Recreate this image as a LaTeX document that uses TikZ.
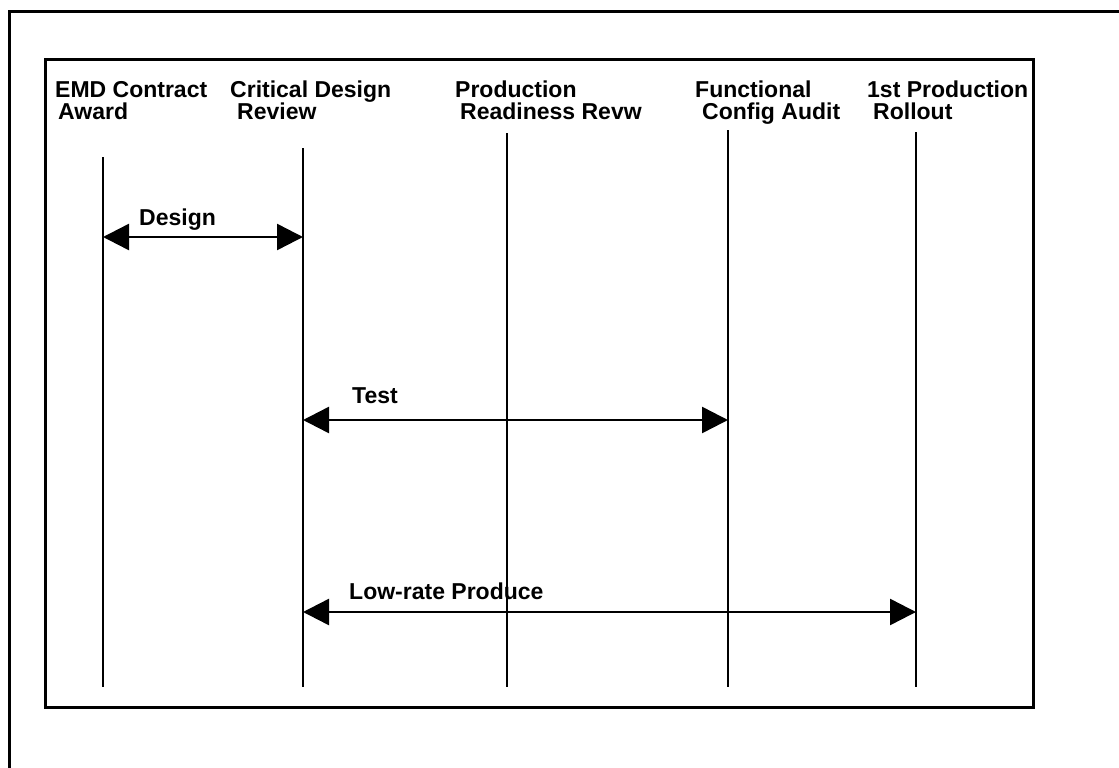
\documentclass[tikz,border=0pt]{standalone}
\usepackage{fontspec}
\setmainfont{Liberation Sans}
\usetikzlibrary{arrows.meta,positioning}

\begin{document}
\begin{tikzpicture}[x=1pt,y=-1pt,
	frame/.style={line width=3pt},
	milestoneline/.style={line width=2.2pt},
	milestone/.style={anchor=base west, inner sep=0pt, font=\fontsize{23}{22}\selectfont\bfseries},
	phaselabel/.style={anchor=base west, inner sep=0pt, font=\fontsize{23}{22}\selectfont\bfseries},
	phase/.style={line width=2.5pt, {Triangle[length=26pt,width=26pt]}-{Triangle[length=26pt,width=26pt]}}]
	\useasboundingbox (0,0) rectangle (1119,768);
	
	\draw[frame] (9,768) -- (9,12) -- (1119,12);
	\draw[frame] (45,60) rectangle (1033,707);
	
	% milestone titles
	\node[milestone] (emd) at (55,97) {EMD Contract};
	\node[milestone] (emd2) at (58,119) {Award};
	\node[milestone] (cdr) at (230,97) {Critical Design};
	\node[milestone] (cdr2) at (237,119) {Review};
	\node[milestone] (prr) at (455,97) {Production};
	\node[milestone] (prr2) at (460,119) {Readiness Revw};
	\node[milestone] (fca) at (695,97) {Functional};
	\node[milestone] (fca2) at (702,119) {Config Audit};
	\node[milestone] (pro) at (867,97) {1st Production};
	\node[milestone] (pro2) at (873,119) {Rollout};
	
	\foreach \name/\x/\top in {emd/103/157, cdr/303/148, prr/507/133, fca/728/130, pro/916/132} {
		\coordinate (\name top) at (\x,\top);
		\coordinate (\name bot) at (\x,687);
		\draw[milestoneline] (\name top) -- (\name bot);
	}
	
	% phases
	\node[phaselabel] (design) at (139,225) {Design};
	\node[phaselabel] (test) at (352,403) {Test};
	\node[phaselabel] (lrip) at (349,599) {Low-rate Produce};
	
	\draw[phase] (emdtop |- 0,237) -- (cdrtop |- 0,237);
	\draw[phase] (cdrtop |- 0,420) -- (fcatop |- 0,420);
	\draw[phase] (cdrtop |- 0,612) -- (protop |- 0,612);
\end{tikzpicture}
\end{document}
